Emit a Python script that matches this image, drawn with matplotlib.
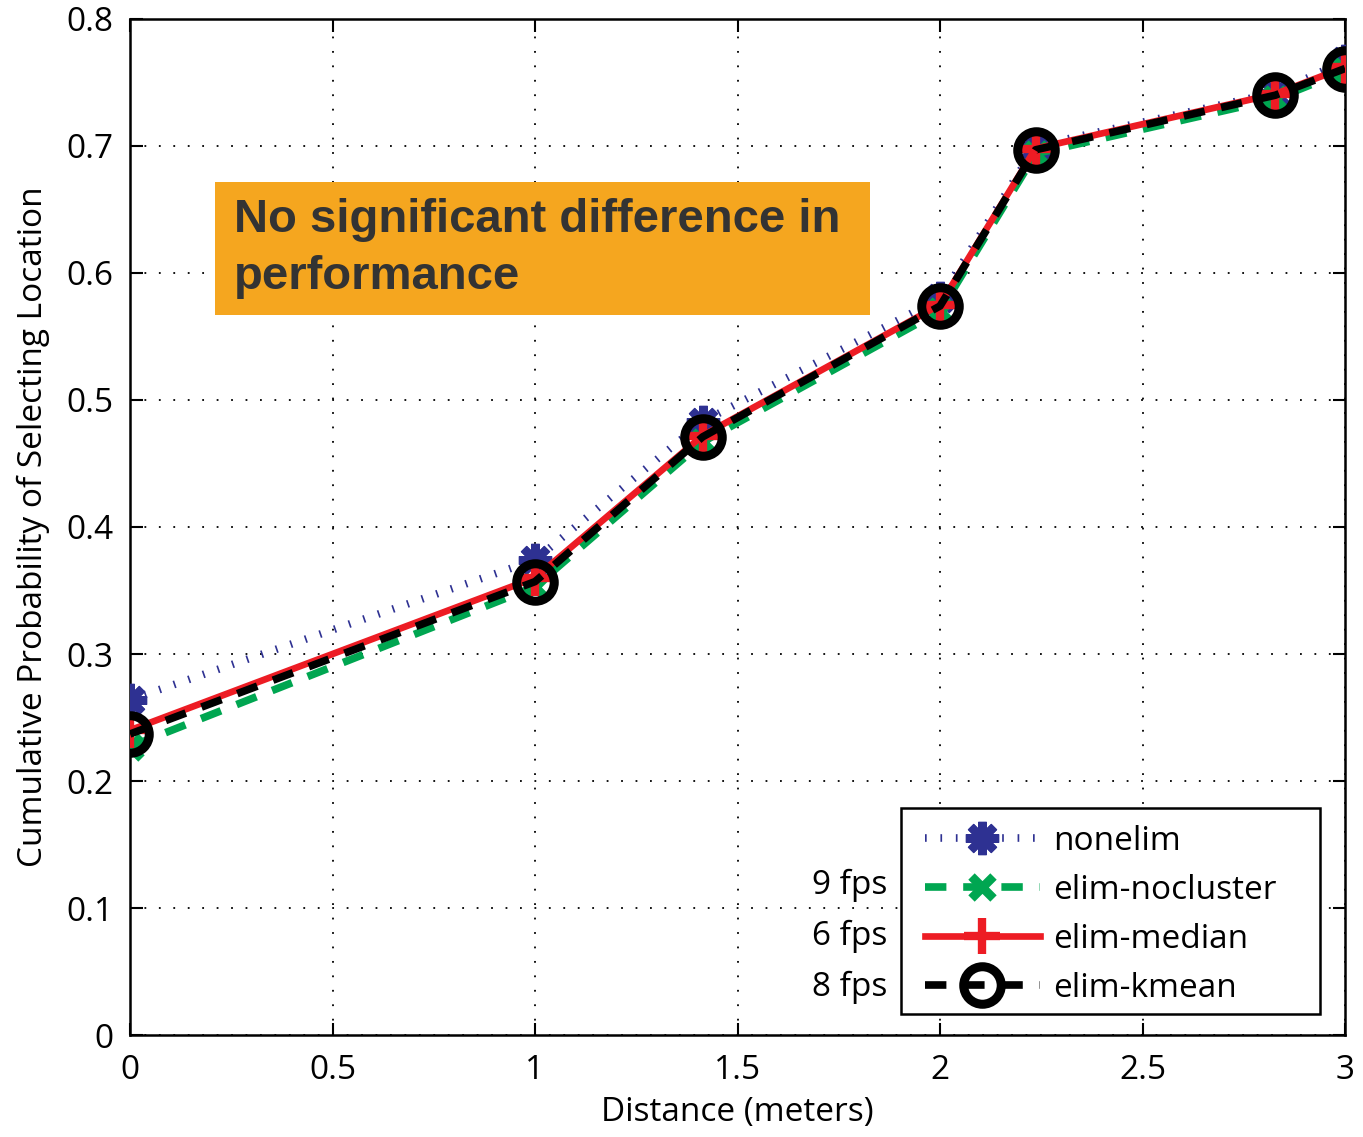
import matplotlib
matplotlib.use("Agg")
import matplotlib.pyplot as plt
from matplotlib.patches import Rectangle

# ---- data ----
distance = [0, 1, 1.414, 2, 2.236, 2.828, 3]
nonelim = [0.264, 0.374, 0.483, 0.580, 0.700, 0.742, 0.767]
elim_nocluster = [0.227, 0.353, 0.467, 0.570, 0.694, 0.737, 0.759]
elim_median = [0.240, 0.360, 0.472, 0.575, 0.698, 0.741, 0.762]
elim_kmean = [0.237, 0.357, 0.471, 0.574, 0.697, 0.740, 0.761]
series_names = ["nonelim", "elim-nocluster", "elim-median", "elim-kmean"]
fps_labels = ["9 fps", "6 fps", "8 fps"]
x_ticks = [0, 0.5, 1, 1.5, 2, 2.5, 3]
x_tick_labels = ["0", "0.5", "1", "1.5", "2", "2.5", "3"]
y_ticks = [0, 0.1, 0.2, 0.3, 0.4, 0.5, 0.6, 0.7, 0.8]
y_tick_labels = ["0", "0.1", "0.2", "0.3", "0.4", "0.5", "0.6", "0.7", "0.8"]
annotation_lines = ["No significant difference in", "performance"]

plt.rcParams['font.family'] = ['Open Sans', 'DejaVu Sans']

fig = plt.figure(figsize=(13.63, 11.37), dpi=100)
ax = fig.add_axes([0.0954, 0.0897, 0.8914, 0.8936])

blue = "#2E3192"
green = "#00A651"
red = "#ED1C24"

ax.plot(distance, nonelim, color=blue, lw=5.5, dashes=(0.22, 1.8),
        dash_capstyle='butt', marker=(8, 2, 0), markersize=24,
        markeredgewidth=6, markeredgecolor=blue, markerfacecolor=blue,
        label=series_names[0], zorder=3)
ax.plot(distance, elim_nocluster, color=green, lw=5.5, dashes=(2.8, 2.2),
        dash_capstyle='butt', marker='x', markersize=16,
        markeredgewidth=6.5, label=series_names[1], zorder=4)
ax.plot(distance, elim_median, color=red, lw=4.8, ls='-',
        marker='+', markersize=26, markeredgewidth=6,
        label=series_names[2], zorder=5)
ax.plot(distance, elim_kmean, color='black', lw=5.5, dashes=(2.8, 2.2),
        dash_capstyle='butt', marker='o', markersize=27,
        markeredgewidth=6.5, markerfacecolor='none', markeredgecolor='black',
        label=series_names[3], zorder=6)

ax.set_xlim(0, 3)
ax.set_ylim(0, 0.8)
ax.set_xticks(x_ticks)
ax.set_xticklabels(x_tick_labels)
ax.set_yticks(y_ticks)
ax.set_yticklabels(y_tick_labels)
ax.tick_params(direction='in', length=9, width=1.5, labelsize=24,
               top=True, right=True, pad=12)
ax.tick_params(axis='x', pad=14)
for s in ax.spines.values():
    s.set_linewidth(1.8)
ax.grid(True, color='black', ls=(0, (1, 7)), lw=1.3)

ax.set_xlabel("Distance (meters)", fontsize=24, labelpad=6)
ax.set_ylabel("Cumulative Probability of Selecting Location", fontsize=24, labelpad=12)

# annotation box
ax.add_patch(Rectangle((0.07, 0.7087), 0.539, 0.1309, transform=ax.transAxes,
                       facecolor='#F5A61F', edgecolor='none', zorder=10))
for line, yf in zip(annotation_lines, [0.8022, 0.7461]):
    ax.text(0.0855, yf, line, transform=ax.transAxes,
            fontsize=34, fontweight='bold', color='#333333',
            family='Liberation Sans', va='center', ha='left', zorder=11)

# legend frame drawn separately, legend content without frame
ax.add_patch(Rectangle((0.6346, 0.0207), 0.3449, 0.2028, transform=ax.transAxes,
                       facecolor='white', edgecolor='black', lw=1.8, zorder=19))
leg = ax.legend(loc='upper left', bbox_to_anchor=(0.6543, 0.2067),
                fontsize=24, frameon=False, handlelength=3.45,
                labelspacing=0.48, borderpad=0, handletextpad=0.4,
                borderaxespad=0)
leg.set_zorder(20)

for lab, yf in zip(fps_labels, [0.1476, 0.0974, 0.0472]):
    ax.text(0.623, yf, lab, transform=ax.transAxes, fontsize=24,
            ha='right', va='center', zorder=20)

fig.savefig("out.png", dpi=100)
